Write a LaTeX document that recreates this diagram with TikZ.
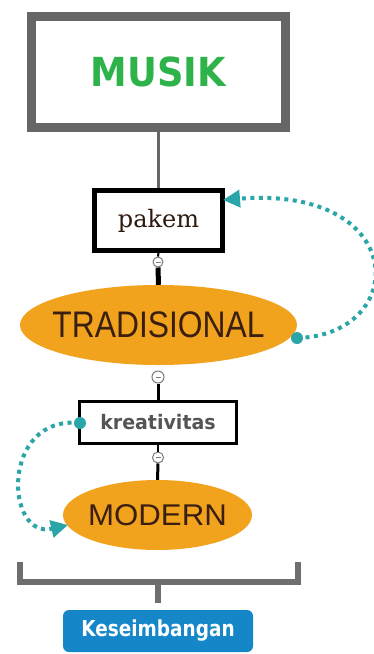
\documentclass[tikz,border=0pt]{standalone}
\usepackage{fontspec}
\setmainfont{DejaVu Sans}
\newfontfamily\musikfont{DejaVu Sans}[FakeStretch=0.92]
\newfontfamily\serfont{DejaVu Serif}
\newfontfamily\tradfont{Liberation Sans}[FakeStretch=0.86]
\newfontfamily\modfont{Liberation Sans}[FakeStretch=1.04]
\newfontfamily\kreafont{DejaVu Sans}[FakeStretch=0.95]
\newfontfamily\kesfont{DejaVu Sans}[FakeStretch=0.84]
\usetikzlibrary{shapes.geometric,arrows.meta}
\definecolor{musikgreen}{HTML}{2DB34A}
\definecolor{framegray}{HTML}{666666}
\definecolor{bracketgray}{HTML}{6E6E6E}
\definecolor{orangefill}{HTML}{F2A31E}
\definecolor{darktext}{HTML}{3A1F10}
\definecolor{tealc}{HTML}{2AA6A8}
\definecolor{btnblue}{HTML}{1587C8}
\definecolor{graytext}{HTML}{555555}
\definecolor{togglegray}{HTML}{7A7A7A}
\begin{document}
\begin{tikzpicture}[x=1pt,y=-1pt,
  conceptbox/.style={rectangle, draw=black, fill=white, inner sep=0pt},
  oval/.style={ellipse, fill=orangefill, inner sep=0pt, text=darktext},
  toggle/.style={circle, draw=togglegray, fill=white, line width=1pt, inner sep=0pt,
    path picture={\draw[togglegray, line width=1pt]
      ([xshift=-2.5pt]path picture bounding box.center) -- ([xshift=2.5pt]path picture bounding box.center);}},
  anchordot/.style={circle, fill=tealc, minimum size=12pt, inner sep=0pt},
  link/.style={tealc, line width=4pt, dash pattern=on 4pt off 4.5pt,
    -{Triangle[length=17pt,width=17pt]}},
  treeline/.style={black},
]
\useasboundingbox (0,0) rectangle (373,654);
\fill[white] (0,0) rectangle (373,654);

% main concept
\node[rectangle, draw=framegray, line width=9pt, fill=white, inner sep=0pt,
      minimum width=254pt, minimum height=111pt] (musik) at (158.5,72)
  {\musikfont\bfseries\fontsize{40}{40}\selectfont\color{musikgreen}MUSIK};

\node[conceptbox, line width=5pt, minimum width=128pt, minimum height=60pt] (pakem) at (158.5,220.5)
  {\serfont\fontsize{24}{24}\selectfont\color{darktext!80!black}pakem};

\node[oval, minimum width=277pt, minimum height=80pt] (trad) at (158.5,325)
  {\makebox[0pt]{\tradfont\fontsize{37}{37}\selectfont TRADISIONAL}};

\node[conceptbox, line width=3pt, minimum width=157pt, minimum height=42pt] (krea) at (158,422.5)
  {\kreafont\bfseries\fontsize{20}{20}\selectfont\color{graytext}kreativitas};

\node[oval, minimum width=189pt, minimum height=70pt] (modern) at (157.5,515)
  {\makebox[0pt]{\modfont\fontsize{30}{30}\selectfont MODERN}};

\node[rectangle, rounded corners=6pt, fill=btnblue, inner sep=0pt,
      minimum width=190pt, minimum height=42pt] (kes) at (158,631)
  {\kesfont\bfseries\fontsize{22}{22}\selectfont\color{white}Keseimbangan};

% collapse toggles
\node[toggle, minimum size=10pt] (c1) at (158,262) {};
\node[toggle, minimum size=12pt] (c2) at (158,377) {};
\node[toggle, minimum size=11pt] (c3) at (158,457.5) {};

% tree connectors
\draw[framegray, line width=3pt] (musik.south) -- (pakem.north);
\draw[treeline, line width=2pt] (pakem.south) -- (c1.north);
\draw[treeline, line width=5pt] (c1.south) -- (trad.north);
\draw[treeline, line width=3pt] (c2.south) -- (krea.north);
\draw[treeline, line width=2pt] (krea.south) -- (c3.north);
\draw[treeline, line width=3pt] (c3.south) -- (modern.north);

% bracket
\coordinate (bl) at (20,562);
\coordinate (blc) at (20,582);
\coordinate (brc) at (298,582);
\coordinate (br) at (298,562);
\coordinate (bm) at (158,582);
\coordinate (bs) at (158,603);
\draw[bracketgray, line width=6pt] (bl) -- (blc) -- (brc) -- (br);
\draw[bracketgray, line width=6pt] (bm) -- (bs);

% cross links
\coordinate (d1p) at (297,338);
\coordinate (d2p) at (80,423);
\coordinate (t1) at (223,200);
\coordinate (t2) at (68,525);
\draw[link] (d1p) .. controls (410,335) and (410,185) .. (t1);
\draw[link] (d2p) .. controls (0,415) and (5,540) .. (t2);
\node[anchordot] (d1) at (d1p) {};
\node[anchordot] (d2) at (d2p) {};
\end{tikzpicture}
\end{document}
